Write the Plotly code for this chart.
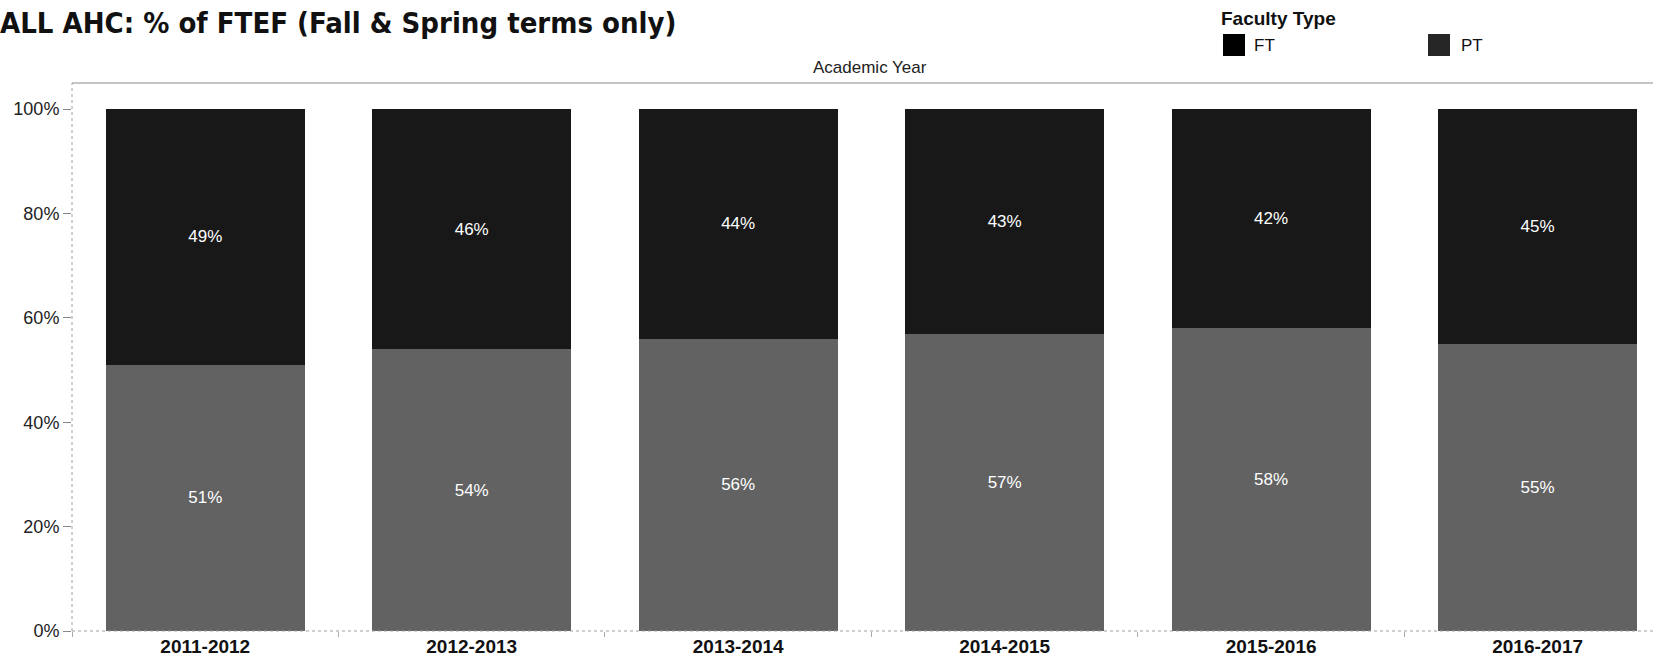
import plotly.graph_objects as go

# Share of FTEF by faculty type, fall and spring terms only
years = ["2011-2012", "2012-2013", "2013-2014", "2014-2015", "2015-2016", "2016-2017"]
ft_pct = [49, 46, 44, 43, 42, 45]
pt_pct = [51, 54, 56, 57, 58, 55]
y_ticks = [0, 20, 40, 60, 80, 100]
y_tick_text = ["0%", "20%", "40%", "60%", "80%", "100%"]

FT_COLOR = "#181818"
PT_COLOR = "#626262"
FONT = "Liberation Sans, Arial, sans-serif"

W, H = 1653, 659
ML, MR, MT, MB = 72, 0, 83, 28
PW, PH = W - ML - MR, H - MT - MB


def px_x(px):
    return (px - ML) / PW


def px_y(py):
    return (H - MB - py) / PH


fig = go.Figure()
fig.add_trace(go.Bar(
    x=years, y=pt_pct, name="PT", marker=dict(color=PT_COLOR, line=dict(width=0)),
    text=[f"{v}%" for v in pt_pct], textposition="inside", insidetextanchor="middle",
    textfont=dict(color="white", size=17, family=FONT), textangle=0,
    constraintext="none", showlegend=False,
))
fig.add_trace(go.Bar(
    x=years, y=ft_pct, name="FT", marker=dict(color=FT_COLOR, line=dict(width=0)),
    text=[f"{v}%" for v in ft_pct], textposition="inside", insidetextanchor="middle",
    textfont=dict(color="white", size=17, family=FONT), textangle=0,
    constraintext="none", showlegend=False,
))

shapes = [
    # pane border on top
    dict(type="line", xref="paper", yref="paper", x0=0, x1=1, y0=1, y1=1,
         line=dict(color="#8a8a8a", width=1)),
    # dotted left axis and baseline
    dict(type="line", xref="paper", yref="paper", x0=0, x1=0, y0=0, y1=1,
         line=dict(color="#a0a0a0", width=1, dash="dot")),
    dict(type="line", xref="paper", yref="paper", x0=0, x1=1, y0=0, y1=0,
         line=dict(color="#a0a0a0", width=1, dash="dot")),
    # legend swatches
    dict(type="rect", xref="paper", yref="paper", x0=px_x(1223), x1=px_x(1245),
         y0=px_y(56), y1=px_y(34), fillcolor="#000000", line=dict(width=0)),
    dict(type="rect", xref="paper", yref="paper", x0=px_x(1428), x1=px_x(1450),
         y0=px_y(56), y1=px_y(34), fillcolor="#262626", line=dict(width=0)),
]

annotations = [
    dict(text="Academic Year", xref="paper", yref="paper", x=px_x(870), y=px_y(67),
         xanchor="center", yanchor="middle", showarrow=False,
         font=dict(size=17, color="#222", family=FONT)),
    dict(text="<b>Faculty Type</b>", xref="paper", yref="paper", x=px_x(1219), y=px_y(19),
         xanchor="left", yanchor="middle", showarrow=False,
         font=dict(size=19, color="#111", family=FONT)),
    dict(text="FT", xref="paper", yref="paper", x=px_x(1252), y=px_y(45),
         xanchor="left", yanchor="middle", showarrow=False,
         font=dict(size=17, color="#111", family=FONT)),
    dict(text="PT", xref="paper", yref="paper", x=px_x(1459), y=px_y(45),
         xanchor="left", yanchor="middle", showarrow=False,
         font=dict(size=17, color="#111", family=FONT)),
]

fig.update_layout(
    width=W, height=H,
    margin=dict(l=ML, r=MR, t=MT, b=MB, pad=0),
    barmode="stack", bargap=0.254,
    paper_bgcolor="white", plot_bgcolor="white",
    title=dict(text="<b>ALL AHC: % of FTEF (Fall &amp; Spring terms only)</b>",
               x=0, xref="container", xanchor="left",
               y=1 - 23 / H, yref="container", yanchor="middle",
               font=dict(size=29, color="#111", family="DejaVu Sans Condensed, DejaVu Sans, sans-serif")),
    xaxis=dict(range=[-0.5, 5.433], showgrid=False, zeroline=False, showline=False,
               ticks="outside", tickson="boundaries", ticklen=5, tickcolor="#aaaaaa",
               ticklabelstandoff=2,
               tickfont=dict(size=19, color="#111", family=FONT),
               tickprefix="<b>", ticksuffix="</b>", fixedrange=True),
    yaxis=dict(range=[0, 105], tickvals=y_ticks, ticktext=y_tick_text,
               showgrid=False, zeroline=False, showline=False,
               ticks="outside", ticklen=8, tickcolor="#888888",
               tickfont=dict(size=18, color="#222", family=FONT), fixedrange=True),
    shapes=shapes,
    annotations=annotations,
    showlegend=False,
)

fig.write_html("out.html")
